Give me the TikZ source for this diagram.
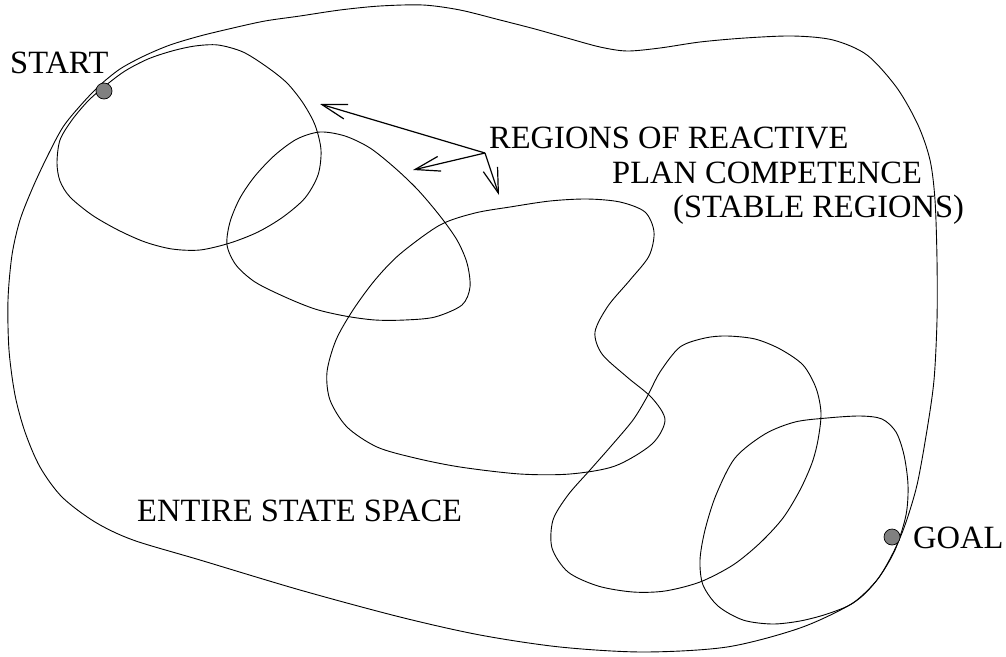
\documentclass[tikz,border=0pt]{standalone}
\usepackage{fontspec}
\setmainfont{Liberation Serif}
\usetikzlibrary{arrows.meta}
\begin{document}
\begin{tikzpicture}[x=1pt,y=-1pt,
  curve/.style={line width=0.9pt, black},
  lbl/.style={anchor=base west, inner sep=0pt, font=\fontsize{32.5}{38}\selectfont},
  dot/.style={circle, draw=black, line width=0.7pt, fill=black!50, minimum size=16pt, inner sep=0pt},
  ptr/.style={line width=1.2pt, -{Straight Barb[length=25pt,width=15pt]}}]
\useasboundingbox (0,0) rectangle (1006,656);
% outer state space
\draw[curve] plot[smooth cycle, tension=0.5] coordinates {
 (33,187) (48,155) (63,127) (80,106) (99,86) (120,69) (144,56) (170,45)
 (200,36) (233,28) (265,21) (300,16) (340,10) (380,6) (423,5) (460,10)
 (500,20) (535,29) (567,38) (600,47) (627,51) (660,48) (700,42) (745,38)
 (793,36) (833,40) (867,55) (897,88) (918,125) (930,160) (935,200) (937,260)
 (937,320) (934,380) (927,430) (917,485) (905,525) (893,553) (877,580)
 (853,603) (800,628) (727,647) (643,652) (560,647) (480,635) (400,617)
 (300,590) (200,560) (133,540) (95,522) (62,497) (40,467) (25,432) (15,395)
 (9,350) (8,300) (12,255) (20,220)};
% region 1
\draw[curve] plot[smooth cycle, tension=0.5] coordinates {
 (57,163) (60,140) (72,120) (88,101) (105,86) (125,71) (148,59) (172,51)
 (195,46) (218,45) (243,52) (267,67) (287,83) (303,103) (315,125) (321,150)
 (318,175) (305,198) (283,217) (258,232) (230,243) (200,250) (172,249)
 (145,242) (118,230) (92,215) (70,197) (60,181)};
% region 2
\draw[curve] plot[smooth cycle, tension=0.5] coordinates {
 (320,132) (345,136) (370,148) (395,168) (418,190) (440,216) (457,240)
 (467,263) (470,287) (462,305) (435,317) (405,320) (375,320) (345,316)
 (315,309) (285,297) (255,282) (236,265) (227,245) (230,222) (240,198)
 (255,176) (275,155) (297,139)};
% region 3
\draw[curve] plot[smooth cycle, tension=0.5] coordinates {
 (510,207) (550,201) (587,199) (620,202) (645,212) (654,232) (649,256)
 (630,280) (608,306) (595,332) (602,354) (627,377) (652,398) (665,420)
 (652,444) (615,466) (570,474) (520,474) (460,467) (415,458) (377,447)
 (347,427) (330,400) (327,372) (336,340) (353,310) (375,280) (400,254)
 (440,225) (475,213)};
% region 4
\draw[curve] plot[smooth cycle, tension=0.5] coordinates {
 (680,347) (705,338) (727,336) (755,339) (780,349) (803,365) (816,388)
 (821,413) (818,440) (812,463) (800,490) (783,518) (760,543) (733,565)
 (700,582) (665,591) (633,592) (598,586) (568,572) (552,548) (553,520)
 (568,495) (590,470) (612,445) (633,420) (647,397) (660,372)};
% region 5
\draw[curve] plot[smooth cycle, tension=0.5] coordinates {
 (827,418) (860,416) (882,419) (896,432) (904,455) (908,485) (906,515)
 (895,550) (877,580) (853,603) (827,614) (800,621) (772,624) (743,620)
 (718,606) (703,585) (700,560) (705,530) (716,495) (735,458) (765,434)
 (795,422)};
% dots
\node[dot] (start) at (104,91) {};
\node[dot] (goal) at (892,537) {};
% labels
\node[lbl] (tstart) at (10,73) {START};
\node[lbl] (tgoal) at (913,548) {GOAL};
\node[lbl] (tentire) at (137,521) {ENTIRE STATE SPACE};
\node[lbl] (tr1) at (489,148) {REGIONS OF REACTIVE};
\node[lbl] (tr2) at (612,183) {PLAN COMPETENCE};
\node[lbl] (tr3) at (673,217) {(STABLE REGIONS)};
% pointers
\coordinate (J) at (485,153);
\coordinate (A1) at (320,104);
\coordinate (A2) at (413,170);
\coordinate (A3) at (499,195);
\draw[ptr] (J) -- (A1);
\draw[ptr] (J) -- (A2);
\draw[ptr] (J) -- (A3);
\end{tikzpicture}
\end{document}
